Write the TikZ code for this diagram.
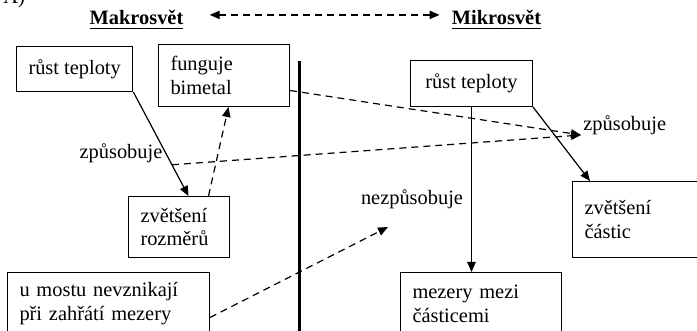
\documentclass[tikz,border=0pt]{standalone}
\usepackage{fontspec}
\setmainfont{Liberation Serif}
\usetikzlibrary{arrows.meta,positioning,calc}
\newcommand{\boxfont}{\fontsize{10.2}{11.9}\selectfont}

\begin{document}
\begin{tikzpicture}[x=0.5pt, y=-0.5pt,
  box/.style={draw, line width=0.5pt, anchor=north west, align=left, inner xsep=6pt, inner ysep=0pt, font=\boxfont},
  lbl/.style={inner sep=0pt, font=\boxfont},
  hdr/.style={inner sep=0pt, font=\boxfont\bfseries, anchor=base},
  arr/.style={line width=0.6pt, -{Triangle[length=5pt,width=4.2pt]}},
  darr/.style={arr, dash pattern=on 3.5pt off 2.5pt}
]
\clip (0,0) rectangle (697,331);
\node[lbl, anchor=base west] (lA) at (3,4) {A)};
\node[hdr] (makro) at (136.5,25) {\underline{Makrosvět}};
\node[hdr] (mikro) at (496.5,25) {\underline{Mikrosvět}};
% makrosvet
\node[box, align=center, minimum width=56.5pt, minimum height=22.5pt] (rt1) at (16,46) {růst teploty};
\node[box, text width=53.5pt, minimum height=31pt] (bim) at (158,44) {funguje\\bimetal};
\node[box, text width=38.5pt, minimum height=30.5pt] (zr) at (128,196) {zvětšení\\rozměrů};
\node[box, text width=89pt, minimum height=31pt] (most) at (7,272) {u mostu nevznikají\\při zahřátí mezery};
% mikrosvet
\node[box, align=center, minimum width=61pt, minimum height=23pt] (rt2) at (410,60) {růst teploty};
\node[box, text width=63pt, minimum height=38pt] (zc) at (572,181) {zvětšení\\částic};
\node[box, text width=68.5pt, minimum height=31pt] (mez) at (400,272) {mezery mezi\\částicemi};
% labels
\node[lbl, anchor=base] (lz1) at (121,159) {způsobuje};
\node[lbl, anchor=base west] (lz2) at (583,131) {způsobuje};
\node[lbl, anchor=base] (lnz) at (412,205) {nezpůsobuje};
\coordinate (cz) at (581,135);
\coordinate (cn) at (388,227);

\draw[line width=1.5pt] (299,61) -- (299,340);
\draw[darr, {Triangle[length=5pt,width=4.2pt]}-{Triangle[length=5pt,width=4.2pt]}] ([xshift=13pt,yshift=2.5pt]makro.east) -- ([xshift=-6pt,yshift=2.5pt]mikro.west);

\draw[arr] (rt1.south east) -- coordinate[pos=0.7] (p1) ([xshift=4.75pt]zr.north);
\draw[darr] ([xshift=14.75pt]zr.north) -- ([xshift=2.25pt]bim.south);
\draw[darr] ([yshift=-7.5pt]bim.east) -- (cz);
\draw[darr] (p1) -- (cz);
\draw[darr] ([yshift=-7pt]most.east) -- (cn);
\draw[arr] (rt2.south east) -- ([xshift=9pt]zc.north west);
\draw[arr] (rt2.south) -- (rt2.south |- mez.north);
\end{tikzpicture}
\end{document}
